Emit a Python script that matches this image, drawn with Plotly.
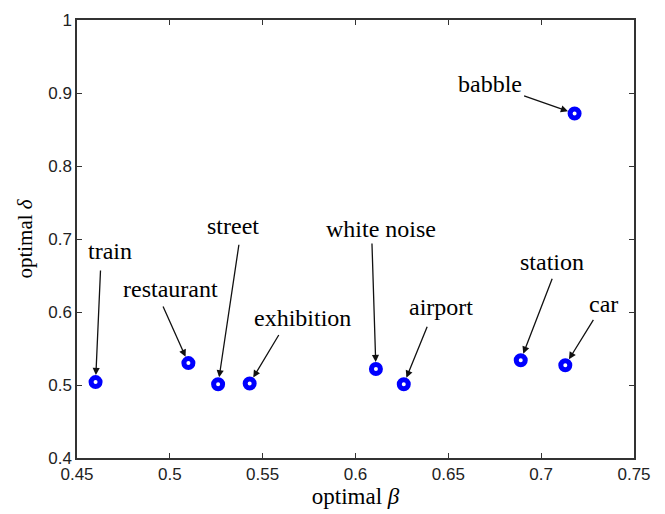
import plotly.graph_objects as go

# Data
noise_types = ["train", "restaurant", "street", "exhibition", "white noise",
               "airport", "station", "car", "babble"]
optimal_beta = [0.460, 0.510, 0.526, 0.543, 0.611, 0.626, 0.689, 0.713, 0.718]
optimal_delta = [0.504, 0.530, 0.501, 0.502, 0.522, 0.501, 0.534, 0.527, 0.872]

x_ticks = [0.45, 0.5, 0.55, 0.6, 0.65, 0.7, 0.75]
y_ticks = [0.4, 0.5, 0.6, 0.7, 0.8, 0.9, 1.0]

# Layout: pixel offsets (dx, dy) of arrow tail and label centre relative to each point
tail_offsets = {
    "train": (5, -113), "restaurant": (-26, -58), "street": (21, -141),
    "exhibition": (30, -50), "white noise": (-4, -127), "airport": (24, -59),
    "station": (32, -83), "car": (29, -47), "babble": (-52, -18),
}
label_offsets = {
    "train": (14, -131), "restaurant": (-18, -74), "street": (15, -158),
    "exhibition": (53, -66), "white noise": (5, -140), "airport": (37, -77),
    "station": (31, -98), "car": (38, -61), "babble": (-85, -29),
}

serif = "Liberation Serif, Times New Roman, serif"
sans = "Liberation Sans, Arial, sans-serif"

fig = go.Figure()
fig.add_trace(go.Scatter(
    x=optimal_beta, y=optimal_delta, mode="markers",
    marker=dict(symbol="circle-open", size=9, color="#0000ff",
                line=dict(width=5, color="#0000ff")),
    showlegend=False, hoverinfo="x+y",
))

annotations = []
for name, xv, yv in zip(noise_types, optimal_beta, optimal_delta):
    tdx, tdy = tail_offsets[name]
    ldx, ldy = label_offsets[name]
    annotations.append(dict(
        x=xv, y=yv, xref="x", yref="y", text="", showarrow=True,
        ax=tdx, ay=tdy, arrowhead=2, arrowsize=1.1, arrowwidth=1.3,
        arrowcolor="#111111", standoff=7,
    ))
    annotations.append(dict(
        x=xv, y=yv, xref="x", yref="y", text=name, showarrow=False,
        xshift=ldx, yshift=-ldy, xanchor="center", yanchor="middle",
        font=dict(family=serif, size=24, color="black"),
    ))

axis_common = dict(
    showline=True, linecolor="#333333", linewidth=1.5, mirror="ticks",
    ticks="inside", ticklen=5, tickcolor="#333333", tickwidth=1.2,
    showgrid=False, zeroline=False,
    tickfont=dict(family=sans, size=17, color="#222222"),
)

fig.update_layout(
    width=665, height=514,
    margin=dict(l=77, r=31, t=20, b=56),
    paper_bgcolor="white", plot_bgcolor="white",
    xaxis=dict(range=[0.45, 0.75], tickvals=x_ticks,
               ticktext=[f"{v:g}" for v in x_ticks],
               title=dict(text="optimal <i>β</i>", standoff=2,
                          font=dict(family=serif, size=23, color="black")),
               **axis_common),
    yaxis=dict(range=[0.4, 1.0], tickvals=y_ticks,
               ticktext=[f"{v:g}" for v in y_ticks],
               title=dict(text="optimal <i>δ</i>", standoff=10,
                          font=dict(family=serif, size=21, color="black")),
               **axis_common),
    annotations=annotations,
)

fig.write_html("out.html")
